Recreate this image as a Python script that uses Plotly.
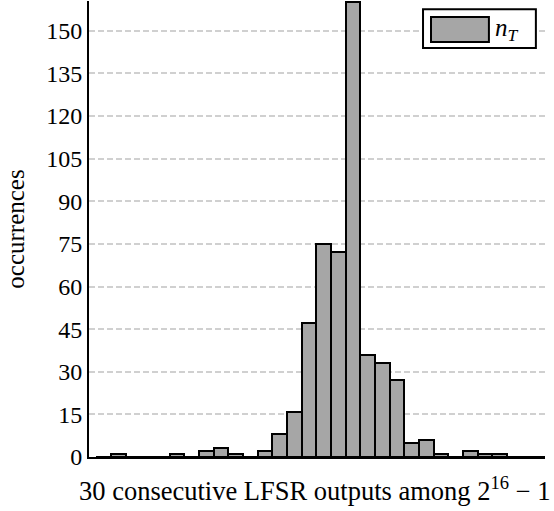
import plotly.graph_objects as go

# Data: occurrences per bin (bins 0..30)
bins = list(range(31))
counts = [0, 1, 0, 0, 0, 1, 0, 2, 3, 1, 0, 2, 8, 16, 47, 75, 72, 160,
          36, 33, 27, 5, 6, 1, 0, 2, 1, 1, 0, 0, 0]
y_ticks = list(range(0, 151, 15))
series_name = "<i>n</i><sub><i>T</i></sub>"
x_title = "30 consecutive LFSR outputs among 2<sup>16</sup> − 1"
y_title = "occurrences"

FONT = "Liberation Serif, DejaVu Serif, serif"
FILL = "#a6a6a6"

fig = go.Figure()
fig.add_trace(go.Bar(
    x=bins, y=counts, name=series_name,
    marker=dict(color=FILL, line=dict(color="black", width=2)),
    width=1.0, showlegend=False, hoverinfo="skip",
))

# manual legend box (pgfplots style)
lx0, lx1, ly0, ly1 = 0.7325, 0.980, 0.897, 0.982
fig.add_shape(type="rect", xref="paper", yref="paper", x0=lx0, x1=lx1, y0=ly0, y1=ly1,
              fillcolor="white", line=dict(color="black", width=2), layer="above")
fig.add_shape(type="rect", xref="paper", yref="paper", x0=0.750, x1=0.877, y0=0.910, y1=0.965,
              fillcolor=FILL, line=dict(color="black", width=2), layer="above")
fig.add_annotation(xref="paper", yref="paper", x=0.885, y=0.938, xanchor="left", yanchor="middle",
                   text=series_name, showarrow=False, font=dict(family=FONT, size=25, color="black"))

# x-axis title placed as annotation (slightly left of plot center, as in reference)
fig.add_annotation(xref="paper", yref="paper", x=0.4945, y=-0.070, xanchor="center", yanchor="middle",
                   text=x_title, showarrow=False, font=dict(family=FONT, size=26.5, color="black"))

fig.update_layout(
    width=554, height=511,
    margin=dict(l=89, r=9, t=1, b=54),
    plot_bgcolor="white", paper_bgcolor="white",
    bargap=0,
    font=dict(family=FONT, size=24, color="black"),
)
fig.update_xaxes(
    range=[-1.0, 30.1], showticklabels=False, ticks="", showgrid=False,
    showline=True, linecolor="black", linewidth=2, zeroline=False,
)
fig.update_yaxes(
    range=[0, 160.5], tickvals=y_ticks, ticks="", ticklen=2, ticklabelstandoff=0,
    showgrid=True, gridcolor="#d0d0d0", gridwidth=1.5, griddash="6px,3px",
    showline=True, linecolor="black", linewidth=2, zeroline=False,
    tickfont=dict(family=FONT, size=24),
    title=dict(text=y_title, standoff=14, font=dict(family=FONT, size=25)),
)

fig.write_html("out.html", config={"displayModeBar": False},
               post_script="document.body.style.margin='0';")
